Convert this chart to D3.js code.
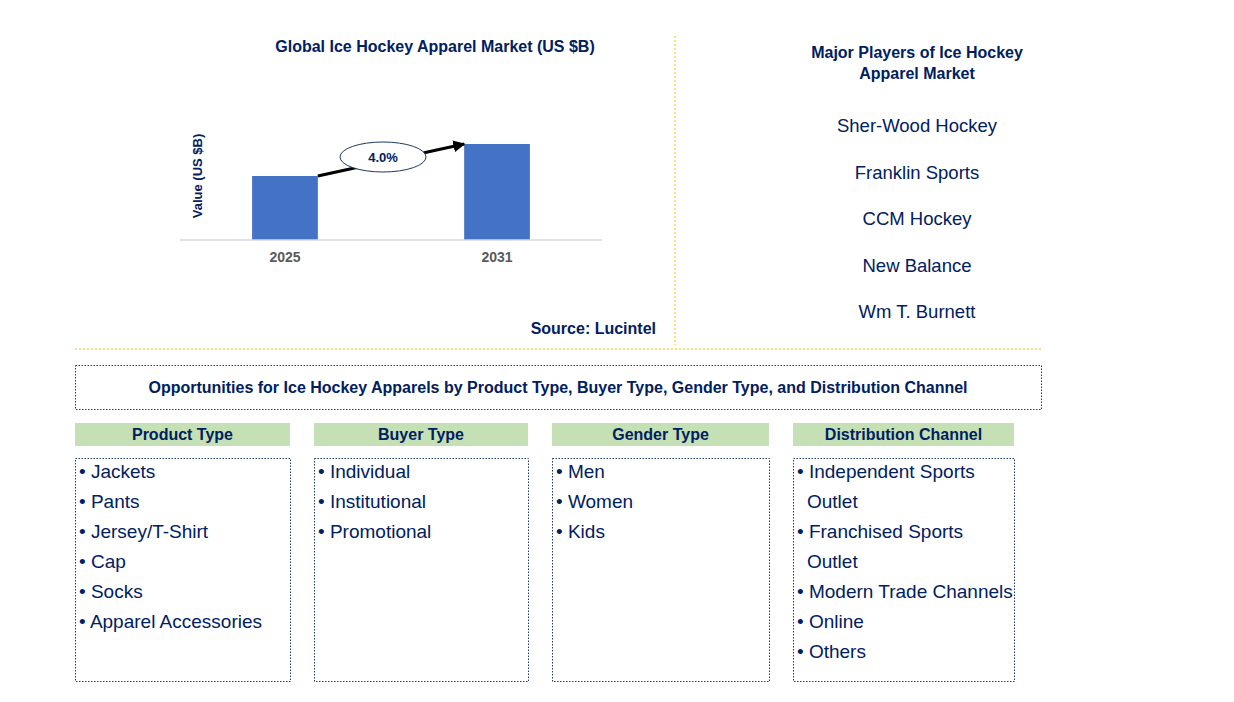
<!DOCTYPE html>
<html><head><meta charset="utf-8">
<script src="https://cdn.jsdelivr.net/npm/d3@7"></script>
<style>body{margin:0;background:#fff}text{font-family:"Liberation Sans",Arial,sans-serif}</style>
</head><body><svg id="c" width="1234" height="702"></svg>
<script>
var years = ["2025", "2031"];
var values = [2.0, 3.0];
var cagr = "4.0%";
var players = ["Sher-Wood Hockey", "Franklin Sports", "CCM Hockey", "New Balance", "Wm T. Burnett"];
var segments = ["Product Type", "Buyer Type", "Gender Type", "Distribution Channel"];
var segmentItems = [
  [["Jackets"], ["Pants"], ["Jersey/T-Shirt"], ["Cap"], ["Socks"], ["Apparel Accessories"]],
  [["Individual"], ["Institutional"], ["Promotional"]],
  [["Men"], ["Women"], ["Kids"]],
  [["Independent Sports", "Outlet"], ["Franchised Sports", "Outlet"], ["Modern Trade Channels"], ["Online"], ["Others"]]
];
var navy = "#002060";
var svg = d3.select("#c");

// chart
svg.append("text").attr("x", 435).attr("y", 52).attr("text-anchor", "middle")
  .attr("font-size", 16).attr("font-weight", "bold").attr("fill", navy)
  .text("Global Ice Hockey Apparel Market (US $B)");
var x = d3.scaleBand().domain(years).range([180, 602]).paddingInner(0.69).paddingOuter(0.34);
var y = d3.scaleLinear().domain([0, 3]).range([240, 144]);
svg.selectAll("rect.bar").data(values).enter().append("rect").attr("class", "bar")
  .attr("x", function(d, i) { return x(years[i]); }).attr("width", x.bandwidth())
  .attr("y", function(d) { return y(d); }).attr("height", function(d) { return y(0) - y(d); })
  .attr("fill", "#4472c4");
svg.append("line").attr("x1", 180).attr("x2", 602).attr("y1", 240).attr("y2", 240)
  .attr("stroke", "#d9d9d9").attr("stroke-width", 1.5);
svg.selectAll("text.yr").data(years).enter().append("text").attr("class", "yr")
  .attr("x", function(d) { return x(d) + x.bandwidth() / 2; }).attr("y", 262)
  .attr("text-anchor", "middle").attr("font-size", 14).attr("font-weight", "bold").attr("fill", "#595959")
  .text(function(d) { return d; });
svg.append("text").attr("transform", "translate(202,176) rotate(-90)").attr("text-anchor", "middle")
  .attr("font-size", 13).attr("font-weight", "bold").attr("fill", navy).text("Value (US $B)");
svg.append("defs").append("marker").attr("id", "ah").attr("viewBox", "0 0 10 10").attr("refX", 9).attr("refY", 5)
  .attr("markerWidth", 4).attr("markerHeight", 4).attr("orient", "auto")
  .append("path").attr("d", "M0,0L10,5L0,10z").attr("fill", "#000");
var x0 = x(years[0]) + x.bandwidth(), x1 = x(years[1]);
svg.append("line").attr("x1", x0).attr("y1", y(values[0])).attr("x2", x1).attr("y2", y(values[1]))
  .attr("stroke", "#000").attr("stroke-width", 3).attr("marker-end", "url(#ah)");
svg.append("ellipse").attr("cx", 383).attr("cy", 157).attr("rx", 43).attr("ry", 15)
  .attr("fill", "#fff").attr("stroke", "#1f3864").attr("stroke-width", 1);
svg.append("text").attr("x", 383).attr("y", 162).attr("text-anchor", "middle").attr("font-size", 13)
  .attr("font-weight", "bold").attr("fill", navy).text(cagr);
svg.append("text").attr("x", 656).attr("y", 334).attr("text-anchor", "end").attr("font-size", 16)
  .attr("font-weight", "bold").attr("fill", navy).text("Source: Lucintel");

// dividers
svg.append("line").attr("x1", 675).attr("x2", 675).attr("y1", 36).attr("y2", 345)
  .attr("stroke", "#f0c000").attr("stroke-dasharray", "2,2");
svg.append("line").attr("x1", 75).attr("x2", 1042).attr("y1", 349).attr("y2", 349)
  .attr("stroke", "#f0c000").attr("stroke-dasharray", "2,2");

// players
svg.append("text").attr("x", 917).attr("y", 58).attr("text-anchor", "middle").attr("font-size", 16)
  .attr("font-weight", "bold").attr("fill", navy).text("Major Players of Ice Hockey");
svg.append("text").attr("x", 917).attr("y", 79).attr("text-anchor", "middle").attr("font-size", 16)
  .attr("font-weight", "bold").attr("fill", navy).text("Apparel Market");
svg.selectAll("text.pl").data(players).enter().append("text").attr("class", "pl")
  .attr("x", 917).attr("y", function(d, i) { return 132 + i * 46.5; }).attr("text-anchor", "middle")
  .attr("font-size", 18.5).attr("fill", navy).text(function(d) { return d; });

// opportunities
svg.append("rect").attr("x", 75.5).attr("y", 365.5).attr("width", 966).attr("height", 44)
  .attr("fill", "none").attr("stroke", "#1f3864").attr("stroke-dasharray", "1.5,1.5");
svg.append("text").attr("x", 558).attr("y", 393).attr("text-anchor", "middle").attr("font-size", 16)
  .attr("font-weight", "bold").attr("fill", navy)
  .text("Opportunities for Ice Hockey Apparels by Product Type, Buyer Type, Gender Type, and Distribution Channel");

var colX = [75, 314, 552, 793], colW = [215, 214, 217, 221];
segments.forEach(function(s, i) {
  svg.append("rect").attr("x", colX[i]).attr("y", 423).attr("width", colW[i]).attr("height", 23).attr("fill", "#c5e0b4");
  svg.append("text").attr("x", colX[i] + colW[i] / 2).attr("y", 440).attr("text-anchor", "middle")
    .attr("font-size", 16).attr("font-weight", "bold").attr("fill", navy).text(s);
  svg.append("rect").attr("x", colX[i] + 0.5).attr("y", 458.5).attr("width", colW[i]).attr("height", 223)
    .attr("fill", "none").attr("stroke", "#1f3864").attr("stroke-dasharray", "1.5,1.5");
  var line = 0;
  segmentItems[i].forEach(function(item) {
    item.forEach(function(t, k) {
      svg.append("text").attr("x", colX[i] + 4).attr("y", 478 + line * 30).attr("font-size", 19).attr("fill", navy)
        .text(k === 0 ? "\u2022 " + t : t)
        .attr("dx", k === 0 ? 0 : 10);
      line++;
    });
  });
});
</script></body></html>
